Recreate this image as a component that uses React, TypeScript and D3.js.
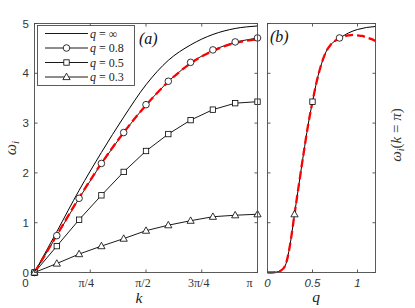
import React from "react";
import * as d3 from "d3";

// k in units of pi
const kOverPi = [0, 0.1, 0.2, 0.3, 0.4, 0.5, 0.6, 0.7, 0.8, 0.9, 1.0];
const wInf = [0, 0.82, 1.65, 2.41, 3.12, 3.77, 4.26, 4.57, 4.78, 4.9, 4.95];
const w08 = [0, 0.74, 1.49, 2.19, 2.81, 3.37, 3.84, 4.22, 4.47, 4.63, 4.71];
const w05 = [0, 0.53, 1.06, 1.55, 2.02, 2.44, 2.78, 3.06, 3.27, 3.4, 3.43];
const w03 = [0, 0.18, 0.37, 0.53, 0.68, 0.84, 0.95, 1.04, 1.12, 1.15, 1.17];
const wApproxA = [0, 0.75, 1.5, 2.19, 2.81, 3.36, 3.83, 4.2, 4.45, 4.61, 4.68];

const qGrid = [0, 0.05, 0.1, 0.15, 0.2, 0.25, 0.3, 0.35, 0.4, 0.45, 0.5, 0.55, 0.6, 0.65, 0.7, 0.75, 0.8, 0.85, 0.9, 0.95, 1.0, 1.05, 1.1, 1.15, 1.2];
const wPiExact = [0, 0, 0.01, 0.04, 0.15, 0.55, 1.17, 1.78, 2.38, 2.95, 3.43, 3.86, 4.19, 4.43, 4.57, 4.65, 4.71, 4.76, 4.81, 4.85, 4.88, 4.9, 4.92, 4.93, 4.94];
const wPiApprox = [0, 0, 0.01, 0.04, 0.15, 0.55, 1.17, 1.78, 2.38, 2.95, 3.43, 3.86, 4.19, 4.43, 4.57, 4.65, 4.71, 4.74, 4.76, 4.77, 4.76, 4.75, 4.72, 4.69, 4.65];

const kTicks = [0, 0.25, 0.5, 0.75, 1];
const kTickLabels = ["0", "π/4", "π/2", "3π/4", "π"];
const qTicks = [0, 0.5, 1];
const qTickLabels = ["0", "0.5", "1"];
const yTicks = [0, 1, 2, 3, 4, 5];

const legendLabels = ["∞", "0.8", "0.5", "0.3"];
const legendMarkers = ["none", "circle", "square", "triangle"];

const AX = "#4a4a4a";
const serif = "'Liberation Serif', 'DejaVu Serif', serif";
const sans = "'Liberation Sans', Arial, sans-serif";

const Marker: React.FC<{ kind: string; x: number; y: number }> = ({ kind, x, y }) => {
	if (kind === "circle")
		return <circle cx={x} cy={y} r={3.3} fill="white" stroke="black" strokeWidth={0.8} />;
	if (kind === "square")
		return <rect x={x - 2.7} y={y - 2.7} width={5.4} height={5.4} fill="white" stroke="black" strokeWidth={0.8} />;
	if (kind === "triangle")
		return (
			<polygon
				points={`${x},${y - 3.8} ${x + 3.6},${y + 2.6} ${x - 3.6},${y + 2.6}`}
				fill="white"
				stroke="black"
				strokeWidth={0.8}
			/>
		);
	return null;
};

const App: React.FC = () => {
	const y = d3.scaleLinear().domain([0, 5]).range([272.5, 23.5]);
	const xA = d3.scaleLinear().domain([0, 1]).range([34.5, 257.5]);
	const xB = d3.scaleLinear().domain([0, 1.2]).range([267.5, 375.5]);

	const lineA = (vals: number[], smooth: boolean) =>
		d3
			.line<number>()
			.x((_, i) => xA(kOverPi[i]))
			.y((d) => y(d))
			.curve(smooth ? d3.curveMonotoneX : d3.curveLinear)(vals) || "";
	const lineB = (vals: number[]) =>
		d3
			.line<number>()
			.x((_, i) => xB(qGrid[i]))
			.y((d) => y(d))
			.curve(d3.curveMonotoneX)(vals) || "";

	const series = [
		{ vals: w08, kind: "circle", q: 0.8 },
		{ vals: w05, kind: "square", q: 0.5 },
		{ vals: w03, kind: "triangle", q: 0.3 },
	];

	const frame = (x0: number, x1: number, xt: number[], sx: (v: number) => number) => (
		<g stroke={AX} strokeWidth={0.9} fill="none">
			<rect x={x0} y={y(5)} width={x1 - x0} height={y(0) - y(5)} />
			{yTicks.map((t) => (
				<g key={"y" + t}>
					<line x1={x0} x2={x0 + 3} y1={y(t)} y2={y(t)} />
					<line x1={x1} x2={x1 - 3} y1={y(t)} y2={y(t)} />
				</g>
			))}
			{xt.map((t) => (
				<g key={"x" + t}>
					<line x1={sx(t)} x2={sx(t)} y1={y(0)} y2={y(0) - 3} />
					<line x1={sx(t)} x2={sx(t)} y1={y(5)} y2={y(5) + 3} />
				</g>
			))}
		</g>
	);

	const kLabelShift = [-9, -4, -3, -3, -8];

	return (
		<svg width={415} height={308} style={{ position: "absolute", left: 0, top: 0, background: "white" }}>
			{/* panel (a) */}
			<path d={lineA(wInf, true)} fill="none" stroke="black" strokeWidth={1} />
			{series.map((s) => (
				<path key={s.kind} d={lineA(s.vals, false)} fill="none" stroke="black" strokeWidth={0.9} />
			))}
			<path d={lineA(wApproxA, true)} fill="none" stroke="#ff0000" strokeWidth={2.3} strokeDasharray="8 4" />
			{series.map((s) =>
				s.vals.map((v, i) => <Marker key={s.kind + i} kind={s.kind} x={xA(kOverPi[i])} y={y(v)} />)
			)}
			{frame(xA(0), xA(1), kTicks, xA)}

			{/* legend */}
			<g>
				<rect x={37.5} y={25.5} width={97} height={60} fill="white" stroke={AX} strokeWidth={0.9} />
				{legendLabels.map((lab, i) => {
					const ly = 33.5 + i * 14.5;
					return (
						<g key={lab}>
							<line x1={45} x2={88} y1={ly} y2={ly} stroke="black" strokeWidth={0.9} />
							<Marker kind={legendMarkers[i]} x={66.5} y={ly} />
							<text x={90} y={ly + 4} fontFamily={serif} fontSize={12} fill="#222">
								<tspan fontStyle="italic">q</tspan>
								<tspan> = {lab}</tspan>
							</text>
						</g>
					);
				})}
			</g>
			<text x={139} y={44} fontFamily={serif} fontSize={16} fontStyle="italic" fill="#111">
				(a)
			</text>

			{/* axis labels (a) */}
			{yTicks.map((t) => (
				<text key={t} x={29} y={y(t) + 4} textAnchor="end" fontFamily={sans} fontSize={11.5} fill="#333">
					{t}
				</text>
			))}
			{kTickLabels.map((lab, i) => (
				<text
					key={lab}
					x={xA(kTicks[i]) + kLabelShift[i]}
					y={287}
					textAnchor="middle"
					fontFamily={i === 0 ? sans : serif}
					fontSize={i === 0 ? 11.5 : 12}
					fill="#333"
				>
					{lab}
				</text>
			))}
			<text x={139} y={303} textAnchor="middle" fontFamily={serif} fontStyle="italic" fontSize={15.5} fill="#222">
				k
			</text>
			<text transform="translate(16,148) rotate(-90)" textAnchor="middle" fontFamily={serif} fontStyle="italic" fontSize={16} fill="#333">
				ω<tspan fontSize={11} dy={3}>i</tspan>
			</text>

			{/* panel (b) */}
			<path d={lineB(wPiExact)} fill="none" stroke="black" strokeWidth={1} />
			<path d={lineB(wPiApprox)} fill="none" stroke="#ff0000" strokeWidth={2.3} strokeDasharray="8 4" />
			{series.map((s) => (
				<Marker key={"b" + s.kind} kind={s.kind} x={xB(s.q)} y={y(s.vals[s.vals.length - 1])} />
			))}
			{frame(xB(0), xB(1.2), qTicks, xB)}
			<text x={270} y={42} fontFamily={serif} fontSize={16} fontStyle="italic" fill="#111">
				(b)
			</text>
			{qTickLabels.map((lab, i) => (
				<text key={lab} x={xB(qTicks[i])} y={287} textAnchor="middle" fontFamily={sans} fontStyle="italic" fontSize={11.5} fill="#333">
					{lab}
				</text>
			))}
			<text x={316} y={301.5} textAnchor="middle" fontFamily={serif} fontStyle="italic" fontSize={15.5} fill="#222">
				q
			</text>
			<text transform="translate(401,135) rotate(-90)" textAnchor="middle" fontFamily={serif} fontSize={15} fill="#333">
				<tspan fontStyle="italic">ω</tspan>
				<tspan fontStyle="italic" fontSize={10} dy={3}>i</tspan>
				<tspan dy={-3}>(</tspan>
				<tspan fontStyle="italic">k</tspan>
				<tspan> = </tspan>
				<tspan fontStyle="italic">π</tspan>
				<tspan>)</tspan>
			</text>
		</svg>
	);
};

export default App;
